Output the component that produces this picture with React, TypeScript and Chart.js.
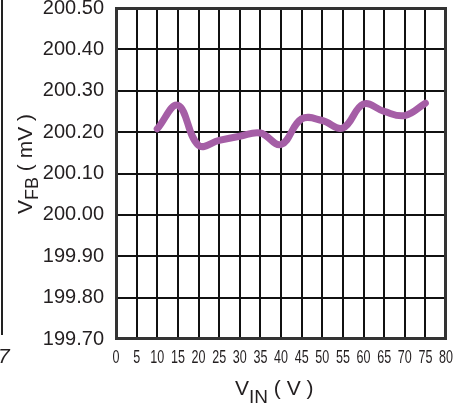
import React, { useEffect, useRef } from "react";
import { Chart, registerables } from "chart.js";

Chart.register(...registerables);

const vinValues = [10, 15, 20, 25, 30, 35, 40, 45, 50, 55, 60, 65, 70, 75];
const vfbValues = [200.208, 200.265, 200.168, 200.18, 200.19, 200.198, 200.17, 200.232, 200.228, 200.21, 200.268, 200.25, 200.24, 200.27];
const xTickValues = [0, 5, 10, 15, 20, 25, 30, 35, 40, 45, 50, 55, 60, 65, 70, 75, 80];
const yTickValues = [199.7, 199.8, 199.9, 200.0, 200.1, 200.2, 200.3, 200.4, 200.5];

const FONT = '"Liberation Sans", Arial, Helvetica, sans-serif';
const TEXT = "#231f20";

export default function App() {
  const ref = useRef<HTMLCanvasElement | null>(null);

  useEffect(() => {
    const canvas = ref.current;
    if (!canvas) return;

    const decor = {
      id: "decor",
      afterDraw(chart: any) {
        const ctx = chart.ctx as CanvasRenderingContext2D;
        const ca = chart.chartArea;
        ctx.save();
        // frame
        ctx.strokeStyle = "#333";
        ctx.lineWidth = 3;
        ctx.strokeRect(ca.left + 0.5, ca.top + 0.5, ca.right - ca.left - 1, ca.bottom - ca.top - 1);

        // x tick labels (condensed)
        const xs = chart.scales.x;
        ctx.fillStyle = TEXT;
        ctx.font = `19px ${FONT}`;
        ctx.textAlign = "center";
        ctx.textBaseline = "alphabetic";
        xTickValues.forEach((v) => {
          const px = xs.getPixelForValue(v);
          ctx.save();
          ctx.translate(px, 363);
          ctx.scale(0.66, 1);
          ctx.fillText(String(v), 0, 0);
          ctx.restore();
        });

        // x title
        ctx.textAlign = "left";
        let x = 235;
        ctx.font = `21px ${FONT}`;
        ctx.fillText("V", x, 395);
        x += ctx.measureText("V").width;
        ctx.font = `19px ${FONT}`;
        ctx.fillText("IN", x, 403);
        x += ctx.measureText("IN").width;
        ctx.font = `21px ${FONT}`;
        ctx.fillText(" ( V )", x, 395);

        // y title
        ctx.save();
        ctx.translate(32, 214);
        ctx.rotate(-Math.PI / 2);
        let y = 0;
        ctx.font = `21px ${FONT}`;
        ctx.fillText("V", y, 0);
        y += ctx.measureText("V").width;
        ctx.font = `18px ${FONT}`;
        ctx.fillText("FB", y, 6);
        y += ctx.measureText("FB").width;
        ctx.font = `21px ${FONT}`;
        ctx.fillText(" ( mV )", y, 0);
        ctx.restore();

        // remnant of neighbouring figure
        ctx.strokeStyle = "#222";
        ctx.lineWidth = 2;
        ctx.beginPath();
        ctx.moveTo(2, 0);
        ctx.lineTo(2, 335);
        ctx.stroke();
        ctx.font = `italic 21px ${FONT}`;
        ctx.fillText("7", -2, 363);
        ctx.restore();
      },
    };

    const chart = new Chart(canvas, {
      type: "line",
      data: {
        datasets: [
          {
            data: vinValues.map((v, i) => ({ x: v, y: vfbValues[i] })),
            borderColor: "#a55ea6",
            borderWidth: 7,
            tension: 0.4,
            borderCapStyle: "round",
            borderJoinStyle: "round",
            pointRadius: 0,
            fill: false,
          },
        ],
      },
      options: {
        responsive: false,
        devicePixelRatio: 1,
        animation: false,
        layout: { padding: { left: 0, right: 23, top: 8, bottom: 0 } },
        plugins: { legend: { display: false }, tooltip: { enabled: false } },
        scales: {
          x: {
            type: "linear",
            min: 0,
            max: 80,
            ticks: { stepSize: 5, display: false },
            grid: { color: "#111", lineWidth: 2, drawTicks: false },
            border: { display: false },
            afterFit(s: any) {
              s.height = 67;
              s.paddingLeft = 0;
              s.paddingRight = 0;
            },
          },
          y: {
            type: "linear",
            min: yTickValues[0],
            max: yTickValues[yTickValues.length - 1],
            ticks: {
              stepSize: 0.1,
              padding: 12,
              color: TEXT,
              font: { family: FONT, size: 20 },
              callback: (v: any) => Number(v).toFixed(2),
            },
            grid: { color: "#111", lineWidth: 2, drawTicks: false },
            border: { display: false },
            afterFit(s: any) {
              s.width = 116;
              s.paddingTop = 0;
              s.paddingBottom = 0;
            },
          },
        },
      },
      plugins: [decor],
    } as any);

    return () => chart.destroy();
  }, []);

  return (
    <div style={{ position: "absolute", left: 0, top: 0, width: 469, height: 406, background: "#fff" }}>
      <canvas ref={ref} width={469} height={406} style={{ display: "block", width: 469, height: 406 }} />
    </div>
  );
}
